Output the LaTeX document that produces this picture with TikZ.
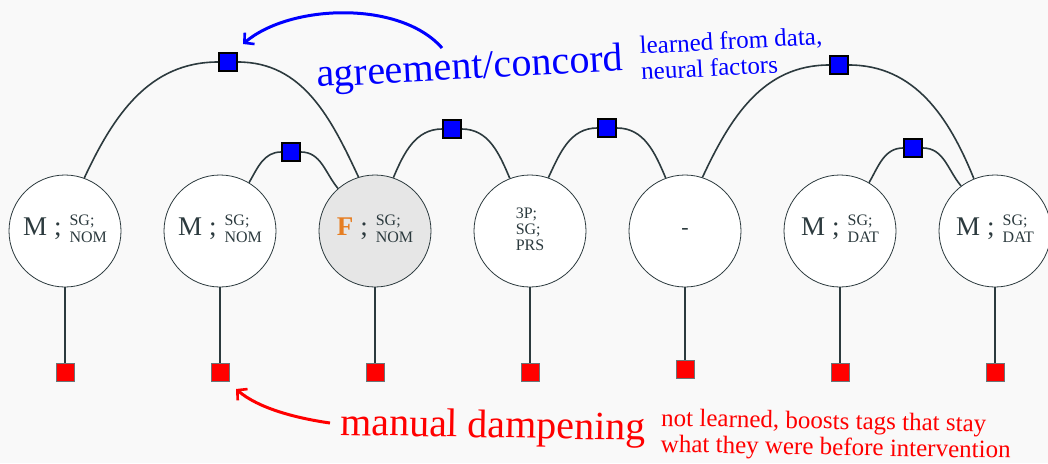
\documentclass[tikz,border=0pt]{standalone}
\usepackage{fontspec}
\setmainfont{Liberation Serif}
\usetikzlibrary{arrows.meta}

\definecolor{bg}{HTML}{F9F9F9}
\definecolor{ink}{HTML}{2C3A3E}
\definecolor{shade}{HTML}{E6E6E6}
\definecolor{fem}{HTML}{E67E22}
\definecolor{factorblue}{HTML}{0000FF}
\definecolor{factorred}{HTML}{FF0000}

% token label: large feature letter, semicolon, stacked small tags
\newcommand\morph[4][ink]{%
  {\fontsize{27}{27}\selectfont\textcolor{#1}{#2}\hspace{7pt};}\hspace{8pt}%
  {\fontsize{16}{17}\selectfont\begin{tabular}{@{}l@{}}#3;\\#4\end{tabular}}}

\tikzset{
  tok/.style={circle, draw=ink, line width=0.8pt, fill=white,
    minimum size=112pt, inner sep=0pt, text=ink},
  pairf/.style={draw=black, line width=1.6pt, fill=factorblue,
    minimum size=18pt, inner sep=0pt},
  unaryf/.style={draw=ink!70, line width=0.8pt, fill=factorred,
    minimum size=18pt, inner sep=0pt},
  edge/.style={draw=ink, line width=1.6pt},
  note/.style={inner sep=0pt, anchor=base west},
  callout/.style={line width=3pt,
    -{Straight Barb[length=7pt,width=15pt,line width=2.6pt]}},
}

\begin{document}
\begin{tikzpicture}[x=1pt,y=1pt]
\fill[bg] (0,0) rectangle (1048,-463);
\useasboundingbox (0,0) rectangle (1048,-463);

% tokens
\node[tok] (t1) at (65,-231)  {\morph{M}{SG}{NOM}};
\node[tok] (t2) at (220,-231) {\morph{M}{SG}{NOM}};
\node[tok, fill=shade] (t3) at (375,-231) {\morph[fem]{\textbf{F}}{SG}{NOM}};
\node[tok] (t4) at (530,-231) {\fontsize{16}{16}\selectfont\begin{tabular}{@{}l@{}}3P;\\SG;\\PRS\end{tabular}\hspace{16pt}};
\node[tok] (t5) at (685,-231) {\fontsize{22}{22}\selectfont -};
\node[tok] (t6) at (840,-231) {\morph{M}{SG}{DAT}};
\node[tok] (t7) at (995,-231) {\morph{M}{SG}{DAT}};

% pairwise agreement factors
\node[pairf] (f1) at (228,-62)  {};
\node[pairf] (f2) at (291,-152) {};
\node[pairf] (f3) at (452,-129) {};
\node[pairf] (f4) at (607,-128) {};
\node[pairf] (f5) at (839,-65)  {};
\node[pairf] (f6) at (913,-148) {};

% unary dampening factors
\node[unaryf] (u1) at (65,-372.5)  {};
\node[unaryf] (u2) at (220,-372.5) {};
\node[unaryf] (u3) at (375,-372.5) {};
\node[unaryf] (u4) at (530,-372.5) {};
\node[unaryf] (u5) at (685,-369.5) {};
\node[unaryf] (u6) at (840,-372.5) {};
\node[unaryf] (u7) at (995,-372.5) {};

\foreach \i in {1,...,7}
  \draw[edge] (t\i.south) -- (u\i.north);

% agreement arcs
\draw[edge] (t1.70)  to[out=65,in=180] (f1.west);
\draw[edge] (f1.east) to[out=0,in=115] (t3.107);
\draw[edge] (t2.59)  to[out=60,in=180] (f2.west);
\draw[edge] (f2.east) to[out=0,in=130] (t3.131);
\draw[edge] (t3.71)  to[out=67,in=180] (f3.west);
\draw[edge] (f3.east) to[out=0,in=113] (t4.111);
\draw[edge] (t4.71)  to[out=65,in=180] (f4.west);
\draw[edge] (f4.east) to[out=0,in=113] (t5.110);
\draw[edge] (t5.72)  to[out=65,in=180] (f5.west);
\draw[edge] (f5.east) to[out=0,in=112] (t7.112);
\draw[edge] (t6.59)  to[out=60,in=180] (f6.west);
\draw[edge] (f6.east) to[out=0,in=130] (t7.127);

% captions
\node[note, text=factorblue, rotate=3, font=\fontsize{40}{40}\selectfont]
  (agr) at (317,-87) {agreement/concord};
\node[note, text=factorblue, rotate=3, font=\fontsize{25}{25}\selectfont]
  (agr1) at (640,-54) {learned from data,};
\node[note, text=factorblue, rotate=3, font=\fontsize{25}{25}\selectfont]
  (agr2) at (641.5,-80) {neural factors};

\node[note, text=factorred, rotate=-1, font=\fontsize{40}{40}\selectfont]
  (dmp) at (340,-435) {manual dampening};
\node[note, text=factorred, rotate=-1, font=\fontsize{25}{25}\selectfont]
  (dmp1) at (661,-426) {not learned, boosts tags that stay};
\node[note, text=factorred, rotate=-1, font=\fontsize{25}{25}\selectfont]
  (dmp2) at (660.5,-452) {what they were before intervention};

% callout arrows
\coordinate (agrtail) at (442,-48);
\coordinate (agrtip)  at (243,-44);
\draw[callout, factorblue] (agrtail) .. controls (400,0) and (290,-4) .. (agrtip);
\coordinate (dmptail) at (330,-423);
\coordinate (dmptip)  at (236,-389);
\draw[callout, factorred] (dmptail) .. controls (295,-418) and (258,-408) .. (dmptip);
\end{tikzpicture}
\end{document}
